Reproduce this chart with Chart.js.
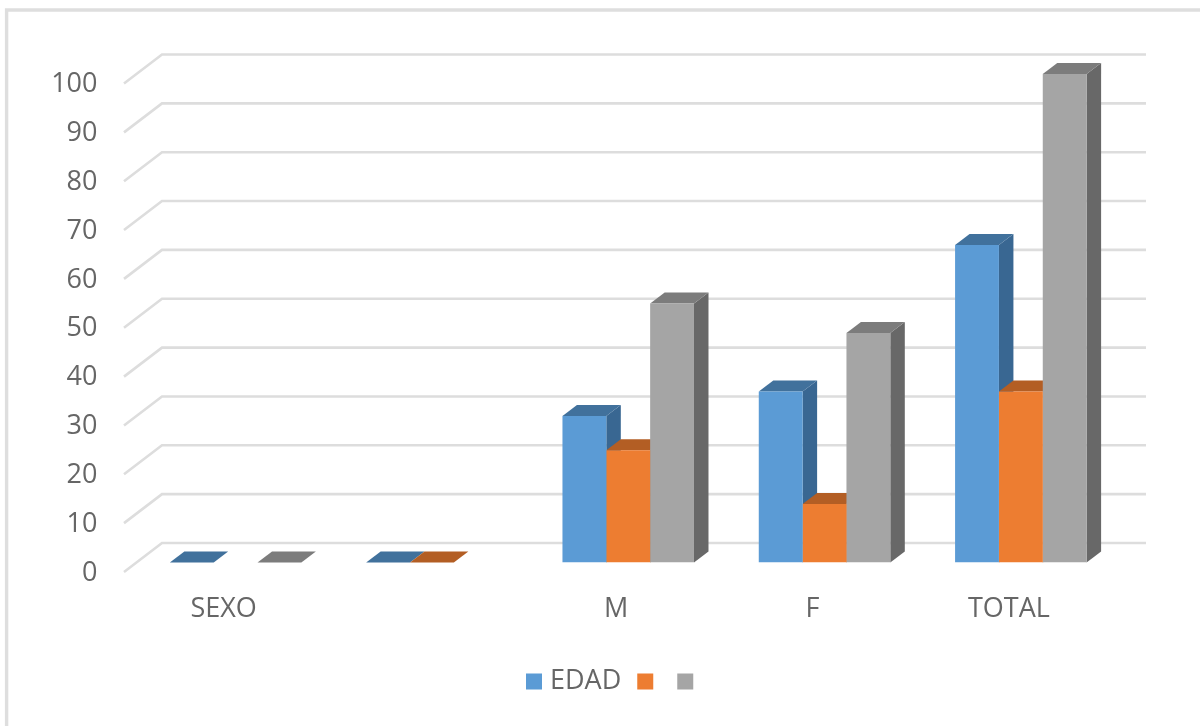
<!DOCTYPE html>
<html>
<head>
<meta charset="utf-8">
<style>html,body{margin:0;padding:0;background:#fff}canvas{display:block}</style>
<script src="https://cdn.jsdelivr.net/npm/chart.js@4"></script>
</head>
<body>
<canvas id="c" width="1200" height="726"></canvas>
<script>
const categories = ['SEXO', '', 'M', 'F', 'TOTAL'];
const seriesNames = ['EDAD', '', ''];
const edad = [0, 0, 30, 35, 65];
const serie2 = [null, 0, 23, 12, 35];
const serie3 = [0, null, 53, 47, 100];
const yTicksMax = 100;
const yTicksStep = 10;

const frontColors = ['#5B9BD5', '#ED7D31', '#A5A5A5'];
const topColors = ['#41719C', '#B35E24', '#7C7C7C'];
const sideColors = ['#396792', '#A05420', '#686868'];

const FONT = {family: '"Open Sans", sans-serif', size: 27};
const TEXT = '#666666';
const DX = 14.5, DY = -11;

const poly = (ctx, pts, fill) => {
  ctx.beginPath();
  pts.forEach((p, i) => i ? ctx.lineTo(p[0], p[1]) : ctx.moveTo(p[0], p[1]));
  ctx.closePath();
  ctx.fillStyle = fill;
  ctx.fill();
};

const scene3d = {
  id: 'scene3d',
  afterLayout(chart) {
    const l = chart.legend;
    l.left = 510; l.right = 1200; l.top = 646.5; l.bottom = 718;
  },
  beforeDraw(chart) {
    const ctx = chart.ctx;
    ctx.save();
    ctx.strokeStyle = '#DEDEDE';
    ctx.lineWidth = 3.4;
    ctx.beginPath();
    ctx.moveTo(6.6, 726); ctx.lineTo(6.6, 10); ctx.lineTo(1200, 10);
    ctx.stroke();
    ctx.restore();
  },
  beforeDatasetsDraw(chart) {
    const ctx = chart.ctx, y = chart.scales.y;
    ctx.save();
    ctx.strokeStyle = '#DDDDDD';
    ctx.lineWidth = 2.6;
    y.ticks.forEach(t => {
      const wall = y.getPixelForValue(t.value) - 19.5;
      ctx.beginPath();
      ctx.moveTo(124, wall + 29);
      ctx.lineTo(162, wall);
      ctx.lineTo(1146, wall);
      ctx.stroke();
    });
    chart.data.datasets.forEach((ds, d) => {
      chart.getDatasetMeta(d).data.forEach((bar, i) => {
        if (ds.data[i] === null) return;
        const p = bar.getProps(['x', 'y', 'base', 'width'], true);
        const l = p.x - p.width / 2, r = p.x + p.width / 2;
        poly(ctx, [[r, p.y], [r + DX, p.y + DY], [r + DX, p.base + DY], [r, p.base]], sideColors[d]);
        poly(ctx, [[l, p.y], [l + DX, p.y + DY], [r + DX, p.y + DY], [r, p.y]], topColors[d]);
      });
    });
    ctx.restore();
  }
};

new Chart(document.getElementById('c'), {
  type: 'bar',
  data: {
    labels: categories,
    datasets: [
      {label: seriesNames[0], data: edad, backgroundColor: frontColors[0]},
      {label: seriesNames[1], data: serie2, backgroundColor: frontColors[1]},
      {label: seriesNames[2], data: serie3, backgroundColor: frontColors[2]}
    ]
  },
  options: {
    responsive: false,
    animation: false,
    layout: {padding: {top: 74, right: 81, left: 0, bottom: 0}},
    categoryPercentage: 0.67,
    barPercentage: 1,
    plugins: {
      tooltip: {enabled: false},
      legend: {
        position: 'bottom',
        align: 'start',
        labels: {
          boxWidth: 5, boxHeight: 5, padding: 21.5, color: TEXT, font: FONT,
          generateLabels: chart => Chart.defaults.plugins.legend.labels.generateLabels(chart)
            .map(item => ({...item, strokeStyle: item.fillStyle, lineWidth: 11}))
        }
      }
    },
    scales: {
      x: {
        grid: {display: false, drawTicks: false},
        border: {display: false},
        afterFit: s => { s.height = 163.5 - s.chart.legend.height; },
        ticks: {color: TEXT, font: FONT, padding: 30.5, labelOffset: -12, maxRotation: 0, autoSkip: false}
      },
      y: {
        min: 0, max: yTicksMax,
        grid: {display: false, drawTicks: false},
        border: {display: false},
        afterFit: s => { s.width = 137.45; },
        ticks: {stepSize: yTicksStep, color: TEXT, font: FONT, padding: 40, labelOffset: 10.5}
      }
    }
  },
  plugins: [scene3d]
});
</script>
</body>
</html>
